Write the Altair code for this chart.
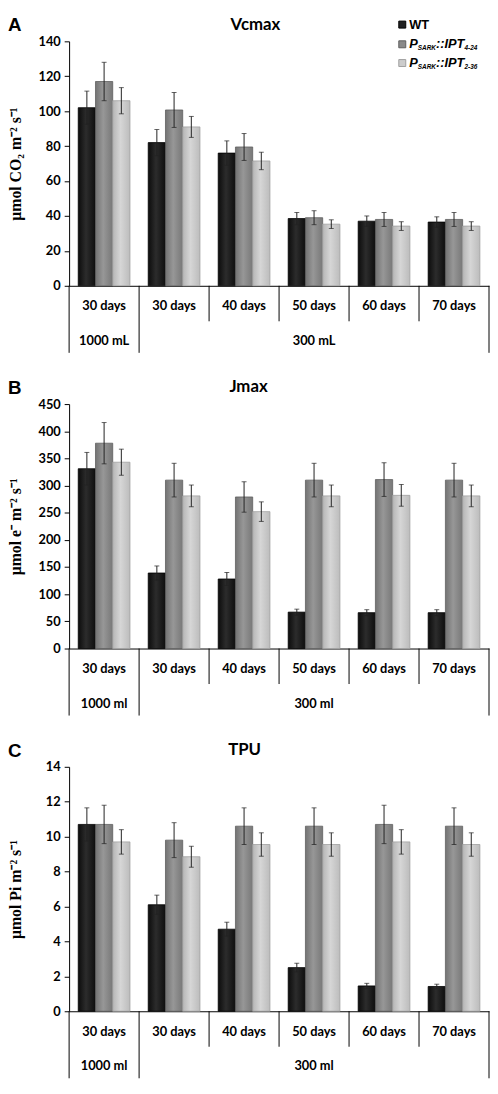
import altair as alt
import pandas as pd

# ---------------- data ----------------
keys = ["k1", "k2", "k3", "k4", "k5", "k6"]
day_labels = ["30 days", "30 days", "40 days", "50 days", "60 days", "70 days"]
series = ["WT", "PSARK::IPT4-24", "PSARK::IPT2-36"]

# Panel A: Vcmax
vc_wt = [102, 82, 76, 38.5, 37, 36.5]
vc_wt_err = [9.5, 7.5, 7, 3.5, 3, 3]
vc_i4 = [117, 100.7, 79.5, 39, 38, 38]
vc_i4_err = [11, 10, 7.7, 4, 4, 4]
vc_i2 = [106, 91, 71.5, 35.3, 34.2, 34.2]
vc_i2_err = [7.5, 6, 5, 2.5, 2.5, 2.5]

# Panel B: Jmax
jm_wt = [331, 139, 128, 67, 66, 66]
jm_wt_err = [30, 13, 12, 5.5, 5.5, 5.5]
jm_i4 = [378, 310, 279, 310, 311, 310]
jm_i4_err = [38, 31, 28, 31, 31, 31]
jm_i2 = [343, 281, 252, 281, 282, 281]
jm_i2_err = [24, 20, 18, 20, 20, 20]

# Panel C: TPU
tp_wt = [10.7, 6.1, 4.7, 2.5, 1.45, 1.42]
tp_wt_err = [0.95, 0.55, 0.4, 0.25, 0.15, 0.13]
tp_i4 = [10.7, 9.8, 10.6, 10.6, 10.7, 10.6]
tp_i4_err = [1.1, 1.0, 1.05, 1.05, 1.1, 1.05]
tp_i2 = [9.7, 8.85, 9.55, 9.55, 9.7, 9.55]
tp_i2_err = [0.7, 0.6, 0.67, 0.67, 0.7, 0.67]

vol_keys = ["k1", "k4"]
vol_labels_A = ["1000 mL", "300 mL"]
vol_labels_BC = ["1000 ml", "300 ml"]

legend_main = [["WT"], ["P", "::IPT"], ["P", "::IPT"]]
legend_sub = [[], ["SARK", "4-24"], ["SARK", "2-36"]]

# ---------------- styles ----------------
W = 426
H = 248
LABEL_FONT = "Lato"

grad_stops = {
    "WT": ["#0c0c0c", "#2c2c2c", "#0e0e0e"],
    "PSARK::IPT4-24": ["#737373", "#979797", "#787878"],
    "PSARK::IPT2-36": ["#b6b6b6", "#d6d6d6", "#bcbcbc"],
}
edge = {"WT": "#000000", "PSARK::IPT4-24": "#5e5e5e", "PSARK::IPT2-36": "#a0a0a0"}
legend_fill = {"WT": "#222222", "PSARK::IPT4-24": "#8a8a8a", "PSARK::IPT2-36": "#cccccc"}


def gradient(cols):
    return alt.Gradient(
        gradient="linear",
        stops=[alt.GradientStop(color=cols[0], offset=0),
               alt.GradientStop(color=cols[1], offset=0.45),
               alt.GradientStop(color=cols[2], offset=1)],
        x1=0, x2=1, y1=0, y2=0,
    )


def xdef(band_pos=None):
    kw = {}
    if band_pos is not None:
        kw["bandPosition"] = band_pos
    return alt.X("key:N", sort=keys,
                 scale=alt.Scale(domain=keys, paddingInner=0, paddingOuter=0),
                 axis=alt.Axis(labels=False, ticks=False, title=None, domain=True,
                               domainColor="black", domainWidth=1, grid=False),
                 **kw)


def xodef():
    return alt.XOffset("series:N", sort=series,
                       scale=alt.Scale(domain=series, paddingInner=0, paddingOuter=0.53))


def ydef(field, ymax, ystep, ytitle):
    return alt.Y(f"{field}:Q",
                 scale=alt.Scale(domain=[0, ymax], nice=False, zero=True),
                 axis=alt.Axis(values=list(range(0, ymax + 1, ystep)), grid=False,
                               title=ytitle, titleFont="Liberation Serif", titleFontSize=16,
                               titleFontWeight="bold", titleColor="black",
                               titleX=-54, titleY=H / 2, titleBaseline="middle", titleAngle=270,
                               labelFont=LABEL_FONT, labelFontWeight="bold", labelFontSize=13,
                               labelColor="black", labelPadding=4, tickSize=5,
                               tickColor="black", domainColor="black", domainWidth=1))


def make_panel(letter, title, title_dx, ytitle, ymax, ystep, vals, errs, vols, legend=False):
    rows = []
    for s_i, s in enumerate(series):
        for k_i, k in enumerate(keys):
            v = vals[s_i][k_i]
            e = errs[s_i][k_i]
            rows.append(dict(key=k, series=s, value=v, lo=v - e, hi=v + e))
    df = pd.DataFrame(rows)

    layers = []
    for s in series:
        layers.append(
            alt.Chart(df).transform_filter(alt.datum.series == s)
            .mark_bar(color=gradient(grad_stops[s]), stroke=edge[s], strokeWidth=0.8)
            .encode(x=xdef(), xOffset=xodef(), y=ydef("value", ymax, ystep, ytitle))
        )
    layers.append(
        alt.Chart(df).mark_rule(color="#222222", strokeWidth=1)
        .encode(x=xdef(), xOffset=xodef(), y=ydef("lo", ymax, ystep, ytitle), y2="hi:Q")
    )
    for f in ["lo", "hi"]:
        layers.append(
            alt.Chart(df).mark_tick(color="#222222", size=5, thickness=1)
            .encode(x=xdef(), xOffset=xodef(), y=ydef(f, ymax, ystep, ytitle))
        )

    # x-axis category separators
    short_df = pd.DataFrame({"key": keys[2:]})
    long_df = pd.DataFrame({"key": keys[:2]})
    end_df = pd.DataFrame({"key": keys[-1:]})
    layers.append(alt.Chart(short_df).mark_rule(color="black", strokeWidth=1)
                  .encode(x=xdef(0), y=alt.value(H), y2=alt.value(H + 36)))
    layers.append(alt.Chart(long_df).mark_rule(color="black", strokeWidth=1)
                  .encode(x=xdef(0), y=alt.value(H), y2=alt.value(H + 68)))
    layers.append(alt.Chart(end_df).mark_rule(color="black", strokeWidth=1)
                  .encode(x=xdef(1), y=alt.value(H), y2=alt.value(H + 68)))

    # x labels
    days_df = pd.DataFrame({"key": keys, "label": day_labels})
    layers.append(alt.Chart(days_df).mark_text(font=LABEL_FONT, fontWeight="bold", fontSize=13,
                                               color="black", baseline="middle")
                  .encode(x=xdef(), y=alt.value(H + 21), text="label:N"))
    vol_df = pd.DataFrame({"key": vol_keys, "label": vols})
    layers.append(alt.Chart(vol_df).mark_text(font=LABEL_FONT, fontWeight="bold", fontSize=13,
                                              color="black", baseline="middle")
                  .encode(x=xdef(), y=alt.value(H + 56), text="label:N"))

    # panel letter and title
    let_df = pd.DataFrame({"t": [letter]})
    layers.append(alt.Chart(let_df).mark_text(font="Liberation Sans", fontWeight="bold",
                                              fontSize=19, color="black", align="left",
                                              baseline="middle")
                  .encode(x=alt.value(-62), y=alt.value(-16), text="t:N"))
    tit_df = pd.DataFrame({"t": [title]})
    layers.append(alt.Chart(tit_df).mark_text(font=LABEL_FONT, fontWeight="bold",
                                              fontSize=17, color="black", align="center",
                                              baseline="middle")
                  .encode(x=alt.value(W / 2 + title_dx), y=alt.value(-17), text="t:N"))

    if legend:
        ly = [-17, 3, 22]
        x0 = 345
        for i, s in enumerate(series):
            sq_df = pd.DataFrame({"s": [s]})
            layers.append(alt.Chart(sq_df).mark_square(size=50, fill=legend_fill[s],
                                                       stroke=edge[s], strokeWidth=1, opacity=1)
                          .encode(x=alt.value(x0 - 7), y=alt.value(ly[i])))
            mains = legend_main[i]
            subs = legend_sub[i]
            italic = "italic" if subs else "normal"
            xpos = x0
            widths_main = {"WT": 21, "P": 8.7, "::IPT": 29}
            widths_sub = {"SARK": 18.5, "4-24": 13, "2-36": 13}
            for j, m in enumerate(mains):
                mdf = pd.DataFrame({"t": [m]})
                layers.append(alt.Chart(mdf).mark_text(font="Liberation Sans", fontWeight="bold",
                                                       fontStyle=italic, fontSize=13,
                                                       color="black", align="left",
                                                       baseline="middle")
                              .encode(x=alt.value(xpos), y=alt.value(ly[i]), text="t:N"))
                xpos += widths_main[m]
                if j < len(subs):
                    sdf = pd.DataFrame({"t": [subs[j]]})
                    layers.append(alt.Chart(sdf).mark_text(font="Liberation Sans",
                                                           fontWeight="bold", fontStyle=italic,
                                                           fontSize=6.5, color="black",
                                                           align="left", baseline="middle")
                                  .encode(x=alt.value(xpos), y=alt.value(ly[i] + 4),
                                          text="t:N"))
                    xpos += widths_sub[subs[j]]

    return alt.layer(*layers).properties(width=W, height=H)


pA = make_panel("A", "Vcmax", -24, "μmol CO₂ m⁻² s⁻¹", 140, 20,
                [vc_wt, vc_i4, vc_i2], [vc_wt_err, vc_i4_err, vc_i2_err], vol_labels_A,
                legend=True)
pB = make_panel("B", "Jmax", -31, "μmol e⁻ m⁻² s⁻¹", 450, 50,
                [jm_wt, jm_i4, jm_i2], [jm_wt_err, jm_i4_err, jm_i2_err], vol_labels_BC)
pC = make_panel("C", "TPU", -35, "μmol Pi m⁻² s⁻¹", 14, 2,
                [tp_wt, tp_i4, tp_i2], [tp_wt_err, tp_i4_err, tp_i2_err], vol_labels_BC)

chart = alt.vconcat(pA, pB, pC, spacing=120, bounds="flush", padding=0).configure_view(
    stroke=None
)

chart.save("out.html", embed_options={"renderer": "svg", "actions": False})
